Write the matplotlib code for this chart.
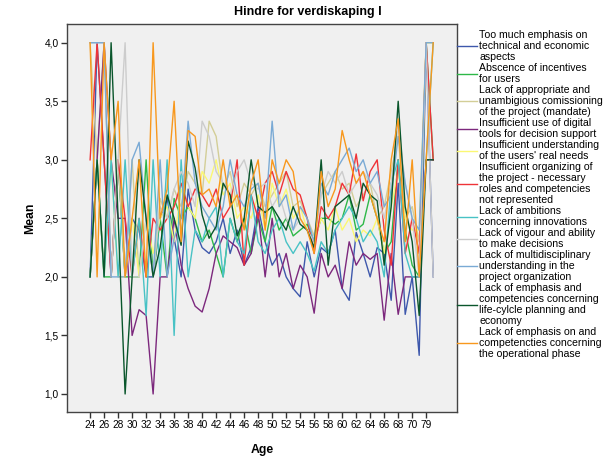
import matplotlib
matplotlib.use("Agg")
import matplotlib.pyplot as plt
import numpy as np

plt.rcParams['font.family'] = ['Liberation Sans', 'DejaVu Sans']

ages = list(range(24, 71)) + [74, 79, 81]

technical = [2.0, 4.0, 3.0, 2.0, 3.0, 2.0, 2.5, 2.4, 2.0, 2.0,
             2.5, 2.67, 2.33, 2.0, 2.75, 2.4, 2.25, 2.2, 2.3, 2.5,
             2.2, 2.4, 2.1, 2.25, 2.6, 2.3, 2.1, 2.2, 2.0, 1.9,
             1.83, 2.3, 2.0, 2.25, 2.2, 2.4, 1.9, 1.8, 2.38, 2.2,
             2.0, 2.25, 2.2, 1.8, 2.8, 1.68, 2.0, 1.33, 4.0, 2.0]
incentives = [2.0, 3.0, 2.0, 2.0, 3.0, 2.0, 2.0, 2.0, 3.0, 2.0,
              2.5, 2.0, 2.67, 2.5, 2.6, 2.5, 2.3, 2.4, 2.2, 2.0,
              2.5, 2.3, 2.5, 2.2, 2.5, 2.3, 2.6, 2.4, 2.5, 2.35,
              2.4, 2.45, 2.3, 2.5, 2.5, 2.45, 2.5, 2.7, 2.4, 2.45,
              2.7, 2.5, 2.2, 2.3, 3.0, 2.4, 2.1, 2.0, 4.0, 3.0]
commissioning = [4.0, 3.0, 4.0, 2.0, 3.0, 2.0, 3.0, 2.0, 2.5, 2.0,
                 2.67, 2.5, 2.75, 2.6, 2.9, 2.8, 2.7, 3.33, 3.2, 2.75,
                 2.9, 2.6, 2.8, 2.7, 2.8, 2.6, 2.7, 2.8, 2.9, 2.6,
                 2.65, 2.5, 2.35, 2.7, 2.8, 2.9, 2.75, 2.8, 2.6, 2.7,
                 2.8, 2.5, 2.6, 2.9, 3.2, 2.5, 2.6, 2.3, 4.0, 4.0]
digital = [2.0, 3.0, 4.0, 3.0, 2.5, 2.5, 1.5, 1.72, 1.67, 1.0,
           2.0, 2.0, 2.5, 2.1, 1.9, 1.75, 1.7, 1.9, 2.2, 2.35,
           2.3, 2.25, 2.1, 2.2, 2.55, 2.0, 2.5, 2.0, 2.2, 1.9,
           2.1, 2.0, 1.69, 2.2, 2.0, 2.1, 1.9, 2.3, 2.1, 2.2,
           2.15, 2.2, 1.63, 2.2, 1.68, 2.0, 2.0, 2.0, 3.0, 3.0]
users = [2.0, 3.0, 2.0, 3.0, 2.0, 2.0, 2.5, 2.0, 2.5, 2.2,
         2.5, 2.6, 2.3, 2.75, 2.6, 2.5, 2.9, 2.8, 3.0, 2.7,
         2.8, 2.5, 2.6, 2.5, 2.7, 2.4, 2.8, 2.6, 2.75, 2.5,
         2.6, 2.4, 2.3, 2.5, 2.4, 2.6, 2.4, 2.5, 2.3, 2.4,
         2.35, 2.5, 2.2, 2.6, 2.9, 2.5, 2.4, 2.4, 4.0, 4.0]
organizing = [3.0, 4.0, 3.0, 2.0, 3.0, 2.5, 2.0, 2.5, 2.0, 2.5,
              2.4, 2.5, 2.6, 2.8, 2.6, 2.75, 2.7, 2.6, 2.75, 2.5,
              2.6, 3.0, 2.1, 2.7, 2.5, 2.8, 2.9, 2.7, 2.9, 2.75,
              2.7, 2.5, 2.2, 2.6, 2.5, 2.6, 2.8, 2.7, 3.05, 2.65,
              2.9, 3.0, 2.4, 2.1, 3.0, 2.2, 2.5, 2.2, 4.0, 3.0]
ambitions = [2.0, 3.0, 2.0, 3.0, 2.0, 3.0, 2.0, 2.5, 1.67, 3.0,
             2.0, 3.0, 1.5, 3.0, 2.0, 2.4, 2.3, 2.5, 2.6, 2.0,
             2.5, 2.3, 2.2, 2.7, 2.3, 2.2, 2.4, 2.5, 2.3, 2.2,
             2.3, 2.2, 2.05, 2.3, 2.2, 2.4, 2.5, 2.6, 2.5, 2.3,
             2.4, 2.3, 2.0, 2.8, 3.0, 2.2, 2.0, 2.0, 3.0, 4.0]
vigour = [4.0, 4.0, 4.0, 2.0, 3.0, 4.0, 2.0, 2.0, 2.5, 2.0,
          2.6, 2.5, 2.75, 2.9, 2.8, 2.6, 3.33, 3.2, 2.9, 2.8,
          2.7, 2.9, 3.0, 2.8, 2.75, 2.8, 2.6, 2.7, 2.5, 2.4,
          2.5, 2.4, 2.3, 2.7, 2.9, 2.8, 2.9, 2.7, 2.8, 2.9,
          2.8, 2.7, 2.5, 2.8, 3.3, 2.8, 2.5, 2.0, 4.0, 2.0]
multidisc = [4.0, 4.0, 4.0, 2.0, 2.0, 2.0, 3.0, 3.15, 2.5, 2.0,
             3.0, 2.0, 2.33, 2.5, 3.33, 2.8, 2.6, 2.5, 2.4, 2.6,
             3.0, 2.7, 2.6, 2.75, 2.8, 2.5, 3.33, 2.6, 2.7, 2.4,
             2.6, 2.5, 2.3, 2.8, 2.7, 2.9, 3.0, 3.1, 2.9, 3.0,
             2.8, 2.9, 2.6, 2.7, 3.2, 2.8, 2.5, 2.4, 4.0, 4.0]
lifecycle = [2.0, 3.0, 2.0, 4.0, 2.5, 1.0, 2.0, 3.0, 2.5, 2.0,
             2.25, 2.7, 2.5, 2.27, 3.16, 2.93, 2.53, 2.33, 2.43, 2.8,
             2.7, 2.35, 2.5, 3.0, 2.6, 2.55, 2.6, 2.5, 2.4, 2.6,
             2.45, 2.4, 2.25, 3.0, 2.1, 2.6, 2.65, 2.7, 2.5, 2.8,
             2.7, 2.65, 2.1, 2.6, 3.5, 2.6, 2.3, 1.67, 3.0, 3.0]
operational = [4.0, 2.0, 4.0, 3.0, 3.5, 2.0, 2.5, 3.0, 2.0, 4.0,
               2.5, 2.75, 3.5, 2.3, 3.25, 3.2, 2.7, 2.75, 2.6, 3.0,
               2.6, 2.7, 2.4, 2.8, 3.0, 2.4, 3.0, 2.8, 3.0, 2.9,
               2.5, 2.4, 2.2, 2.9, 2.6, 2.75, 3.25, 3.0, 2.8, 2.9,
               2.7, 2.5, 2.3, 3.0, 3.35, 2.3, 3.0, 2.0, 3.0, 4.0]

labels = [
    "Too much emphasis on\ntechnical and economic\naspects",
    "Abscence of incentives\nfor users",
    "Lack of appropriate and\nunambigious comissioning\nof the project (mandate)",
    "Insufficient use of digital\ntools for decision support",
    "Insufficient understanding\nof the users' real needs",
    "Insufficient organizing of\nthe project - necessary\nroles and competencies\nnot represented",
    "Lack of ambitions\nconcerning innovations",
    "Lack of vigour and ability\nto make decisions",
    "Lack of multidisciplinary\nunderstanding in the\nproject organization",
    "Lack of emphasis and\ncompetencies concerning\nlife-cylcle planning and\neconomy",
    "Lack of emphasis on and\ncompetencties concerning\nthe operational phase",
]
series = [technical, incentives, commissioning, digital, users, organizing,
          ambitions, vigour, multidisc, lifecycle, operational]
colors = ["#3E58AC", "#2EB848", "#D3CE97", "#7C287D", "#FBF873", "#EF3338",
          "#48C2C5", "#CCCCCC", "#7AAAD5", "#0A562C", "#F8981D"]

fig = plt.figure(figsize=(6.16, 4.63), dpi=100)
ax = fig.add_axes([67/616, 1-412/463, (457-67)/616, (412-24)/463])
ax.set_facecolor("#F0F0F0")

x = np.arange(len(ages))
for vals, lab, col in zip(series, labels, colors):
    ax.plot(x, vals, color=col, lw=1.0, label=lab)

ax.set_xlim(-3.3, 52.4)
ax.set_ylim(0.846, 4.16)
ax.set_xticks(x[::2])
ax.set_xticklabels([str(a) for a in ages[::2]], fontsize=7.3)
yt = [1.0, 1.5, 2.0, 2.5, 3.0, 3.5, 4.0]
ax.set_yticks(yt)
ax.set_yticklabels([f"{v:.1f}".replace(".", ",") for v in yt], fontsize=7.3)
ax.tick_params(direction="out", length=4, width=1, color="#333333", pad=2)
for sp in ax.spines.values():
    sp.set_color("#444444")
    sp.set_linewidth(1.0)

fig.text(0.5, 1 - 12/463, "Hindre for verdiskaping I", fontsize=9, fontweight="bold",
         ha="center", va="center")
ax.set_xlabel("Age", fontsize=8.8, fontweight="bold", labelpad=10)
ax.set_ylabel("Mean", fontsize=8.8, fontweight="bold", labelpad=6)

leg = ax.legend(loc="upper left", bbox_to_anchor=(1.0, 0.985), frameon=False,
                fontsize=7.6, handlelength=1.9, handletextpad=0.2,
                borderaxespad=0, borderpad=0, labelspacing=0.1)
for t in leg.get_texts():
    t.set_linespacing(1.12)

fig.savefig("out.png", dpi=100, facecolor="white")
